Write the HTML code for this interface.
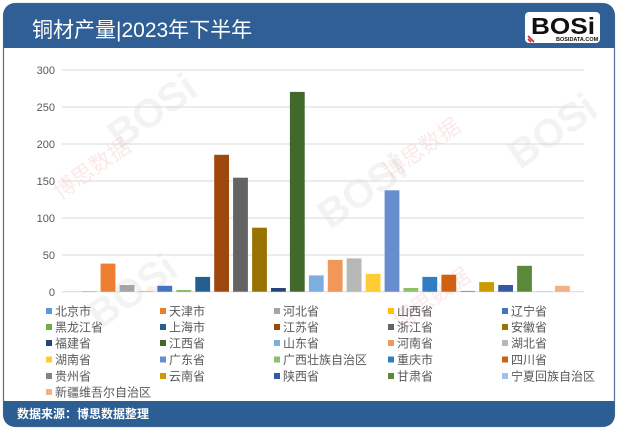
<!DOCTYPE html>
<html><head><meta charset="utf-8"><style>
html,body{margin:0;padding:0;background:#fff;}
svg{display:block;font-family:"Liberation Sans","Noto Sans CJK SC",sans-serif;}
</style></head><body>
<svg width="619" height="431" viewBox="0 0 619 431" xmlns="http://www.w3.org/2000/svg">
<rect x="0" y="0" width="619" height="431" fill="#ffffff"/>
<!-- card -->
<rect x="3.5" y="3.5" width="611" height="423" rx="12" fill="#ffffff" stroke="#4d6f94" stroke-width="1.2"/>
<!-- header -->
<path d="M3.5,48 L3.5,15.5 Q3.5,3.5 15.5,3.5 L602.5,3.5 Q614.5,3.5 614.5,15.5 L614.5,48 Z" fill="#2f5f94"/>
<!-- footer -->
<path d="M3.5,401 L614.5,401 L614.5,414.5 Q614.5,426.5 602.5,426.5 L15.5,426.5 Q3.5,426.5 3.5,414.5 Z" fill="#2d5e93"/>
<text x="32" y="37" font-size="21" fill="#ffffff">铜材产量|2023年下半年</text>
<!-- logo -->
<rect x="525" y="12" width="75" height="31" rx="4" fill="#ffffff"/>
<text x="531" y="34" font-size="23" font-weight="bold" fill="#111" textLength="64" lengthAdjust="spacingAndGlyphs">BOSi</text>
<path d="M528,36 L534,42 M528,39 L531,42" stroke="#d0202a" stroke-width="1.6"/>
<text x="556" y="41" font-size="5.5" fill="#111" font-weight="bold">BOSIDATA.COM</text>
<!-- watermarks -->
<g opacity="0.10" font-weight="bold" fill="#888">
<text x="120" y="150" font-size="40" transform="rotate(-35 120 150)">BOSi</text>
<text x="330" y="230" font-size="40" transform="rotate(-35 330 230)">BOSi</text>
<text x="520" y="170" font-size="40" transform="rotate(-35 520 170)">BOSi</text>
<text x="100" y="330" font-size="40" transform="rotate(-35 100 330)">BOSi</text>
</g>
<g opacity="0.10" fill="#d02030" font-size="22">
<text x="60" y="200" transform="rotate(-35 60 200)">博思数据</text>
<text x="390" y="180" transform="rotate(-35 390 180)">博思数据</text>
<text x="400" y="330" transform="rotate(-35 400 330)">博思数据</text>
</g>
<!-- gridlines -->
<g stroke="#d9d9d9" stroke-width="1">
<line x1="62" x2="584" y1="70" y2="70"/>
<line x1="62" x2="584" y1="107" y2="107"/>
<line x1="62" x2="584" y1="144" y2="144"/>
<line x1="62" x2="584" y1="181" y2="181"/>
<line x1="62" x2="584" y1="218" y2="218"/>
<line x1="62" x2="584" y1="255" y2="255"/>
<line x1="62" x2="584" y1="291.7" y2="291.7"/>
</g>
<g font-size="11" fill="#595959" text-anchor="end">
<text x="55" y="74">300</text>
<text x="55" y="111">250</text>
<text x="55" y="148">200</text>
<text x="55" y="185">150</text>
<text x="55" y="222">100</text>
<text x="55" y="259">50</text>
<text x="55" y="296">0</text>
</g>
<!-- bars: y0=291.7, 0.74px/unit -->
<g>
<rect x="81.7" y="291.3" width="14.8" height="0.4" fill="#5B9BD5"/>
<rect x="100.6" y="263.6" width="14.8" height="28.1" fill="#ED7D31"/>
<rect x="119.6" y="285.0" width="14.8" height="6.7" fill="#A5A5A5"/>
<rect x="138.5" y="290.9" width="14.8" height="0.8" fill="#FFC000"/>
<rect x="157.4" y="285.8" width="14.8" height="5.9" fill="#4472C4"/>
<rect x="176.4" y="290.2" width="14.8" height="1.5" fill="#70AD47"/>
<rect x="195.3" y="276.9" width="14.8" height="14.8" fill="#255E91"/>
<rect x="214.2" y="154.8" width="14.8" height="136.9" fill="#9E480E"/>
<rect x="233.1" y="177.7" width="14.8" height="114.0" fill="#636363"/>
<rect x="252.1" y="227.7" width="14.8" height="64.0" fill="#997300"/>
<rect x="271.0" y="288.0" width="14.8" height="3.7" fill="#264478"/>
<rect x="289.9" y="91.9" width="14.8" height="199.8" fill="#43682B"/>
<rect x="308.9" y="275.4" width="14.8" height="16.3" fill="#7CAFDD"/>
<rect x="327.8" y="259.9" width="14.8" height="31.8" fill="#F1975A"/>
<rect x="346.7" y="258.4" width="14.8" height="33.3" fill="#B7B7B7"/>
<rect x="365.7" y="273.9" width="14.8" height="17.8" fill="#FFCD33"/>
<rect x="384.6" y="190.3" width="14.8" height="101.4" fill="#698ED0"/>
<rect x="403.5" y="288.0" width="14.8" height="3.7" fill="#8CC168"/>
<rect x="422.4" y="276.9" width="14.8" height="14.8" fill="#327DC2"/>
<rect x="441.4" y="274.7" width="14.8" height="17.0" fill="#D26012"/>
<rect x="460.3" y="290.9" width="14.8" height="0.8" fill="#848484"/>
<rect x="479.2" y="282.1" width="14.8" height="9.6" fill="#CC9A00"/>
<rect x="498.2" y="285.0" width="14.8" height="6.7" fill="#335AA1"/>
<rect x="517.1" y="265.8" width="14.8" height="25.9" fill="#5A8A39"/>
<rect x="536.0" y="291.3" width="14.8" height="0.4" fill="#9DC3E6"/>
<rect x="555.0" y="285.8" width="14.8" height="5.9" fill="#F4B183"/>
</g>
<!-- legend -->
<g font-size="12" fill="#595959">
<rect x="46" y="308" width="6" height="6" fill="#5B9BD5"/><text x="55" y="315.5">北京市</text>
<rect x="160" y="308" width="6" height="6" fill="#ED7D31"/><text x="169" y="315.5">天津市</text>
<rect x="274" y="308" width="6" height="6" fill="#A5A5A5"/><text x="283" y="315.5">河北省</text>
<rect x="388" y="308" width="6" height="6" fill="#FFC000"/><text x="397" y="315.5">山西省</text>
<rect x="502" y="308" width="6" height="6" fill="#4472C4"/><text x="511" y="315.5">辽宁省</text>

<rect x="46" y="324" width="6" height="6" fill="#70AD47"/><text x="55" y="331.5">黑龙江省</text>
<rect x="160" y="324" width="6" height="6" fill="#255E91"/><text x="169" y="331.5">上海市</text>
<rect x="274" y="324" width="6" height="6" fill="#9E480E"/><text x="283" y="331.5">江苏省</text>
<rect x="388" y="324" width="6" height="6" fill="#636363"/><text x="397" y="331.5">浙江省</text>
<rect x="502" y="324" width="6" height="6" fill="#997300"/><text x="511" y="331.5">安徽省</text>

<rect x="46" y="340" width="6" height="6" fill="#264478"/><text x="55" y="347.5">福建省</text>
<rect x="160" y="340" width="6" height="6" fill="#43682B"/><text x="169" y="347.5">江西省</text>
<rect x="274" y="340" width="6" height="6" fill="#7CAFDD"/><text x="283" y="347.5">山东省</text>
<rect x="388" y="340" width="6" height="6" fill="#F1975A"/><text x="397" y="347.5">河南省</text>
<rect x="502" y="340" width="6" height="6" fill="#B7B7B7"/><text x="511" y="347.5">湖北省</text>

<rect x="46" y="356.5" width="6" height="6" fill="#FFCD33"/><text x="55" y="364">湖南省</text>
<rect x="160" y="356.5" width="6" height="6" fill="#698ED0"/><text x="169" y="364">广东省</text>
<rect x="274" y="356.5" width="6" height="6" fill="#8CC168"/><text x="283" y="364">广西壮族自治区</text>
<rect x="388" y="356.5" width="6" height="6" fill="#327DC2"/><text x="397" y="364">重庆市</text>
<rect x="502" y="356.5" width="6" height="6" fill="#D26012"/><text x="511" y="364">四川省</text>

<rect x="46" y="373" width="6" height="6" fill="#848484"/><text x="55" y="380.5">贵州省</text>
<rect x="160" y="373" width="6" height="6" fill="#CC9A00"/><text x="169" y="380.5">云南省</text>
<rect x="274" y="373" width="6" height="6" fill="#335AA1"/><text x="283" y="380.5">陕西省</text>
<rect x="388" y="373" width="6" height="6" fill="#5A8A39"/><text x="397" y="380.5">甘肃省</text>
<rect x="502" y="373" width="6" height="6" fill="#9DC3E6"/><text x="511" y="380.5">宁夏回族自治区</text>

<rect x="46" y="389" width="6" height="6" fill="#F4B183"/><text x="55" y="396.5">新疆维吾尔自治区</text>
</g>
<text x="17" y="418" font-size="12" font-weight="bold" fill="#ffffff">数据来源：博思数据整理</text>
</svg>
</body></html>
